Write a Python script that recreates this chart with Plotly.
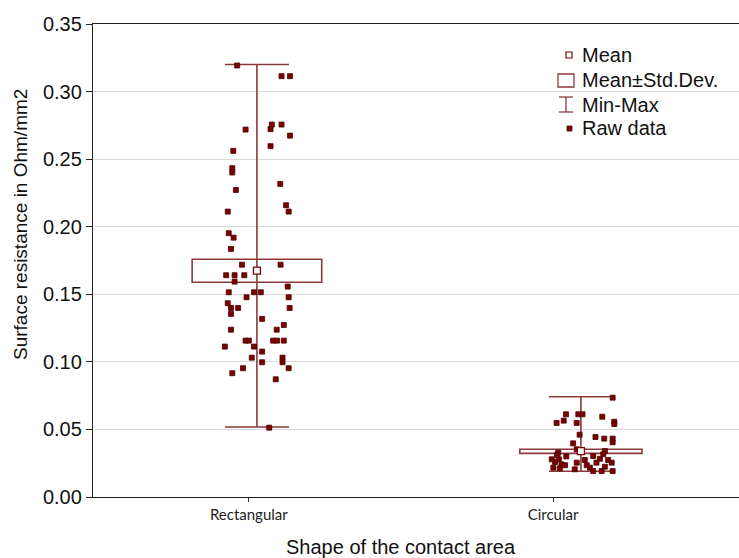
import plotly.graph_objects as go

# ---------------- data ----------------
categories = ["Rectangular", "Circular"]
cat_pos = [0.0, 1.0]
label_pos = [-0.025, 0.914]

means = [0.1675, 0.0340]
sd_low = [0.1589, 0.0323]
sd_high = [0.1759, 0.0353]
vmin = [0.0518, 0.0190]
vmax = [0.3200, 0.0742]
box_width = [0.40, 0.377]

rect_values = [0.3193, 0.3114, 0.3114, 0.2756, 0.2756, 0.2719, 0.2722, 0.2674, 0.2561, 0.2596,
               0.2433, 0.2401, 0.2317, 0.2272, 0.2159, 0.2112, 0.2112, 0.1952, 0.1919, 0.1836,
               0.1719, 0.1719, 0.1641, 0.1641, 0.1641, 0.1594, 0.1557, 0.1515, 0.1515, 0.1515,
               0.1478, 0.1478, 0.1434, 0.1399, 0.1399, 0.1399, 0.1355, 0.1318, 0.1273, 0.1238,
               0.1238, 0.1157, 0.1157, 0.1157, 0.1157, 0.1157, 0.1113, 0.1113, 0.1076, 0.1031,
               0.1031, 0.0997, 0.0997, 0.0953, 0.0953, 0.0916, 0.0871, 0.0513]
rect_jitter = [-0.061, 0.076, 0.102, 0.046, 0.076, -0.035, 0.042, 0.102, -0.073, 0.042,
               -0.076, -0.076, 0.072, -0.065, 0.090, 0.098, -0.090, -0.087, -0.072, -0.080,
               -0.046, 0.073, -0.095, -0.069, -0.039, -0.069, 0.095, -0.087, -0.009, 0.012,
               -0.032, 0.098, -0.090, -0.080, -0.058, 0.101, -0.080, 0.016, 0.083, -0.080,
               0.061, -0.035, -0.025, 0.050, 0.062, 0.083, -0.099, -0.009, 0.016, 0.079,
               -0.016, 0.079, 0.016, -0.043, 0.098, -0.076, 0.058, 0.038]

circ_values = [0.0735, 0.0612, 0.0612, 0.0612, 0.0594, 0.0565, 0.0548, 0.0548, 0.0557, 0.0540,
               0.0461, 0.0444, 0.0432, 0.0432, 0.0405, 0.0397, 0.0353, 0.0340, 0.0328, 0.0279,
               0.0279, 0.0259, 0.0242, 0.0217, 0.0212, 0.0254, 0.0274, 0.0303, 0.0283, 0.0316,
               0.0254, 0.0274, 0.0254, 0.0217, 0.0192, 0.0235, 0.0224, 0.0192, 0.0205, 0.0192,
               0.0235, 0.0310, 0.0300]
circ_jitter = [0.098, -0.046, -0.008, 0.005, 0.066, -0.053, -0.075, -0.013, 0.103, 0.103,
               -0.004, 0.045, 0.072, 0.098, 0.098, -0.024, -0.013, 0.074, -0.070, -0.090,
               -0.068, -0.080, -0.060, -0.085, -0.065, -0.013, 0.012, 0.038, 0.059, 0.069,
               0.048, 0.084, 0.095, 0.028, 0.038, 0.018, 0.074, 0.098, -0.019, 0.064,
               -0.049, -0.074, -0.045]

y_ticks = [0.00, 0.05, 0.10, 0.15, 0.20, 0.25, 0.30, 0.35]
legend_labels = ["Mean", "Mean\u00b1Std.Dev.", "Min-Max", "Raw data"]

# ---------------- style ----------------
MAROON = "#7b0000"
LINE = "#8b3a3a"
W, H = 739, 558
L, R, T, B = 93, 0, 24, 61
PW, PH = W - L - R, H - T - B
FONT = "Liberation Sans"


def px(xp):
    return (xp - L) / PW


def py(yp):
    return (H - B - yp) / PH


fig = go.Figure()

# Mean ± SD boxes
fig.add_trace(go.Bar(
    x=cat_pos, y=[h - l for h, l in zip(sd_high, sd_low)], base=sd_low,
    width=box_width, marker=dict(color="rgba(255,255,255,0)", line=dict(color=LINE, width=1.6)),
    showlegend=False, hoverinfo="skip"))

# Min-Max whiskers
fig.add_trace(go.Scatter(
    x=cat_pos, y=means, mode="markers", marker=dict(size=1, color="rgba(0,0,0,0)"),
    error_y=dict(type="data", symmetric=False,
                 array=[mx - m for mx, m in zip(vmax, means)],
                 arrayminus=[m - mn for m, mn in zip(means, vmin)],
                 color=LINE, thickness=1.6, width=32),
    showlegend=False, hoverinfo="skip"))

# Raw data
fig.add_trace(go.Scatter(
    x=[cat_pos[0] + j for j in rect_jitter] + [cat_pos[1] + j for j in circ_jitter],
    y=rect_values + circ_values, mode="markers",
    marker=dict(symbol="square", size=5, color=MAROON, line=dict(color="#4d0000", width=0.8)),
    showlegend=False))

# Means
fig.add_trace(go.Scatter(
    x=cat_pos, y=means, mode="markers",
    marker=dict(symbol="square", size=7, color="white", line=dict(color=MAROON, width=1.3)),
    showlegend=False))

shapes = []
annotations = []
leg_y = [55, 80, 105, 128]
for lab, yy in zip(legend_labels, leg_y):
    annotations.append(dict(x=px(580), y=py(yy), xref="paper", yref="paper", text=lab,
                            showarrow=False, xanchor="left", yanchor="middle",
                            font=dict(family=FONT, size=20, color="#111")))
# legend glyphs
shapes.append(dict(type="rect", xref="paper", yref="paper", x0=px(566), x1=px(572),
                   y0=py(58), y1=py(52), line=dict(color=MAROON, width=1.2), fillcolor="white"))
shapes.append(dict(type="rect", xref="paper", yref="paper", x0=px(558), x1=px(574),
                   y0=py(87), y1=py(74), line=dict(color=LINE, width=1.3), fillcolor="white"))
for yy in (97, 112):
    shapes.append(dict(type="line", xref="paper", yref="paper", x0=px(559), x1=px(573),
                       y0=py(yy), y1=py(yy), line=dict(color=LINE, width=1.3)))
shapes.append(dict(type="line", xref="paper", yref="paper", x0=px(566), x1=px(566),
                   y0=py(97), y1=py(112), line=dict(color=LINE, width=1.3)))
shapes.append(dict(type="rect", xref="paper", yref="paper", x0=px(567), x1=px(572),
                   y0=py(131), y1=py(126), line=dict(color="#4d0000", width=0.8), fillcolor=MAROON))

# axis titles
annotations.append(dict(x=px(20), y=py(225), xref="paper", yref="paper",
                        text="Surface resistance in Ohm/mm2", textangle=-90, showarrow=False,
                        xanchor="center", yanchor="middle",
                        font=dict(family=FONT, size=19, color="#111")))
annotations.append(dict(x=px(401), y=py(547), xref="paper", yref="paper",
                        text="Shape of the contact area", showarrow=False,
                        xanchor="center", yanchor="middle",
                        font=dict(family=FONT, size=20, color="#111")))

fig.update_layout(
    width=W, height=H, margin=dict(l=L, r=R, t=T, b=B),
    paper_bgcolor="white", plot_bgcolor="white",
    showlegend=False, shapes=shapes, annotations=annotations,
    xaxis=dict(range=[-0.506, 1.488], tickvals=label_pos, ticktext=categories,
               ticks="outside", ticklen=4, tickcolor="#333",
               tickfont=dict(family="Lato", size=15, color="#222"),
               showline=True, linecolor="#222", linewidth=1.3, mirror=True,
               showgrid=False, zeroline=False),
    yaxis=dict(range=[0, 0.35], tickvals=y_ticks, tickformat=".2f",
               ticks="outside", ticklen=6, tickcolor="#222",
               tickfont=dict(family=FONT, size=20, color="#111"),
               showline=True, linecolor="#222", linewidth=1.3,
               showgrid=True, gridcolor="#d9d9d9", gridwidth=1, zeroline=False),
)

fig.write_html("out.html", config={"displayModeBar": False},
               post_script="document.body.style.margin='0';document.body.style.overflow='hidden';")
